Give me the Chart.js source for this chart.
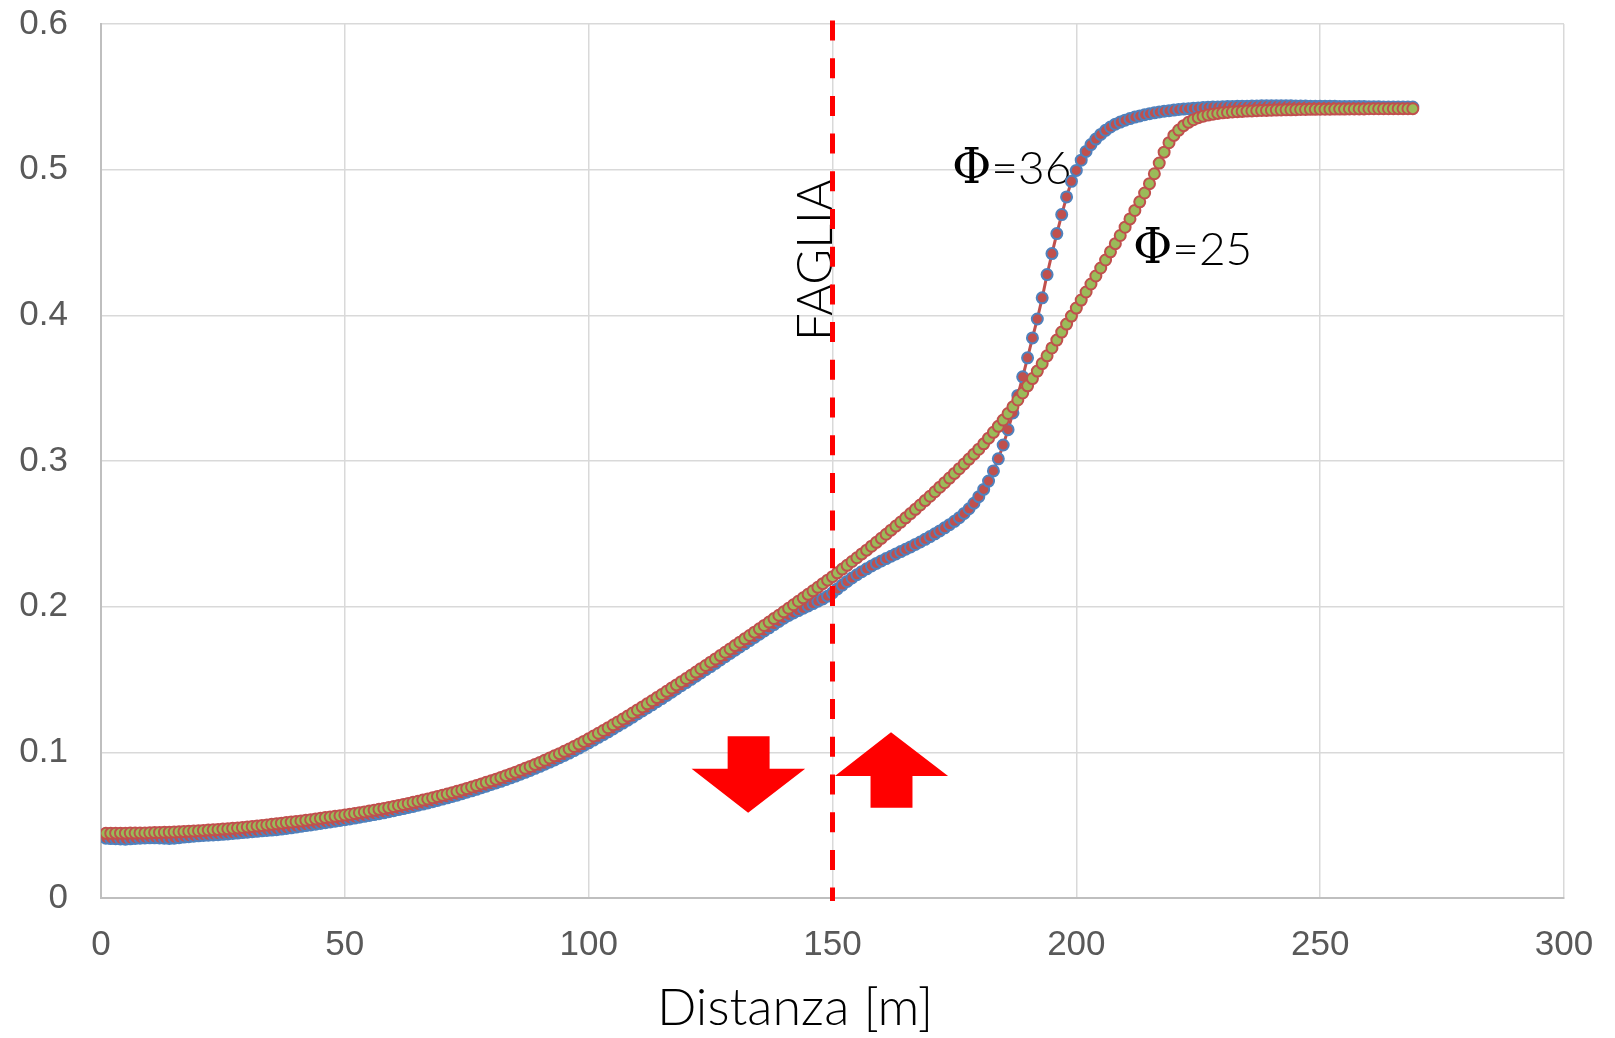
<!DOCTYPE html>
<html><head><meta charset="utf-8">
<script src="https://cdn.jsdelivr.net/npm/chart.js@4"></script>
<style>html,body{margin:0;padding:0;background:#fff}#wrap{width:1615px;height:1038px;position:relative}</style>
</head><body><div id="wrap"><canvas id="c"></canvas></div>
<script>
// Φ=36 series (blue outline, red fill)
const phi36 = [
0.0410,0.0408,0.0407,0.0405,0.0404,0.0406,0.0409,0.0411,0.0412,0.0413,
0.0413,0.0412,0.0410,0.0409,0.0411,0.0414,0.0418,0.0421,0.0424,0.0427,
0.0429,0.0431,0.0433,0.0435,0.0437,0.0440,0.0443,0.0446,0.0449,0.0452,
0.0455,0.0458,0.0461,0.0464,0.0466,0.0469,0.0473,0.0477,0.0482,0.0487,
0.0492,0.0497,0.0502,0.0507,0.0512,0.0517,0.0522,0.0527,0.0532,0.0537,
0.0543,0.0549,0.0555,0.0561,0.0567,0.0573,0.0579,0.0585,0.0592,0.0599,
0.0607,0.0614,0.0622,0.0629,0.0637,0.0645,0.0653,0.0661,0.0670,0.0679,
0.0688,0.0697,0.0706,0.0716,0.0726,0.0736,0.0746,0.0757,0.0768,0.0779,
0.0790,0.0801,0.0813,0.0825,0.0837,0.0850,0.0863,0.0876,0.0890,0.0904,
0.0918,0.0933,0.0948,0.0963,0.0979,0.0995,0.1012,0.1029,0.1047,0.1065,
0.1084,0.1103,0.1122,0.1141,0.1161,0.1181,0.1201,0.1221,0.1242,0.1263,
0.1284,0.1305,0.1326,0.1348,0.1369,0.1391,0.1413,0.1435,0.1457,0.1479,
0.1501,0.1523,0.1545,0.1567,0.1589,0.1611,0.1634,0.1656,0.1679,0.1701,
0.1723,0.1745,0.1767,0.1789,0.1811,0.1833,0.1855,0.1877,0.1899,0.1921,
0.1940,0.1957,0.1973,0.1989,0.2005,0.2021,0.2037,0.2053,0.2072,0.2095,
0.2122,0.2148,0.2173,0.2197,0.2219,0.2240,0.2260,0.2279,0.2297,0.2314,
0.2330,0.2346,0.2362,0.2378,0.2394,0.2410,0.2427,0.2444,0.2462,0.2481,
0.2500,0.2520,0.2541,0.2563,0.2586,0.2611,0.2640,0.2672,0.2710,0.2755,
0.2805,0.2862,0.2932,0.3015,0.3110,0.3215,0.3330,0.3450,0.3578,0.3708,
0.3845,0.3975,0.4120,0.4280,0.4424,0.4561,0.4692,0.4813,0.4920,0.4995,
0.5065,0.5125,0.5172,0.5210,0.5242,0.5270,0.5293,0.5312,0.5327,0.5340,
0.5351,0.5361,0.5369,0.5377,0.5384,0.5390,0.5396,0.5401,0.5405,0.5409,
0.5413,0.5416,0.5419,0.5422,0.5424,0.5426,0.5428,0.5430,0.5431,0.5432,
0.5433,0.5434,0.5435,0.5436,0.5436,0.5437,0.5437,0.5438,0.5438,0.5438,
0.5438,0.5438,0.5438,0.5438,0.5437,0.5437,0.5437,0.5436,0.5436,0.5436,
0.5435,0.5435,0.5435,0.5434,0.5434,0.5434,0.5433,0.5433,0.5433,0.5432,
0.5432,0.5432,0.5431,0.5431,0.5431,0.5430,0.5430,0.5430,0.5430
];
// Φ=25 series (red outline, green fill)
const phi25 = [
0.0444,0.0444,0.0445,0.0445,0.0445,0.0446,0.0446,0.0447,0.0447,0.0448,
0.0449,0.0450,0.0451,0.0452,0.0453,0.0455,0.0456,0.0458,0.0460,0.0462,
0.0464,0.0466,0.0468,0.0470,0.0473,0.0475,0.0478,0.0481,0.0484,0.0488,
0.0491,0.0495,0.0498,0.0502,0.0506,0.0510,0.0514,0.0518,0.0521,0.0525,
0.0529,0.0534,0.0538,0.0543,0.0547,0.0552,0.0556,0.0561,0.0565,0.0570,
0.0575,0.0580,0.0586,0.0591,0.0597,0.0603,0.0609,0.0615,0.0621,0.0628,
0.0635,0.0642,0.0649,0.0657,0.0664,0.0672,0.0680,0.0688,0.0697,0.0705,
0.0714,0.0723,0.0732,0.0742,0.0752,0.0762,0.0772,0.0783,0.0794,0.0805,
0.0816,0.0828,0.0840,0.0852,0.0864,0.0877,0.0890,0.0903,0.0917,0.0931,
0.0946,0.0961,0.0976,0.0991,0.1007,0.1023,0.1040,0.1057,0.1075,0.1093,
0.1112,0.1131,0.1150,0.1169,0.1189,0.1209,0.1229,0.1249,0.1270,0.1291,
0.1312,0.1333,0.1354,0.1376,0.1397,0.1419,0.1441,0.1463,0.1485,0.1507,
0.1529,0.1551,0.1574,0.1596,0.1619,0.1641,0.1664,0.1687,0.1710,0.1733,
0.1756,0.1779,0.1802,0.1825,0.1848,0.1871,0.1894,0.1918,0.1941,0.1965,
0.1989,0.2013,0.2037,0.2061,0.2085,0.2109,0.2133,0.2158,0.2182,0.2206,
0.2232,0.2258,0.2284,0.2310,0.2336,0.2362,0.2388,0.2415,0.2442,0.2469,
0.2497,0.2525,0.2553,0.2581,0.2610,0.2639,0.2668,0.2698,0.2728,0.2758,
0.2789,0.2820,0.2851,0.2883,0.2915,0.2947,0.2980,0.3013,0.3047,0.3081,
0.3118,0.3157,0.3197,0.3238,0.3281,0.3326,0.3372,0.3419,0.3467,0.3516,
0.3566,0.3617,0.3669,0.3722,0.3776,0.3830,0.3885,0.3940,0.3995,0.4050,
0.4105,0.4160,0.4215,0.4270,0.4325,0.4380,0.4436,0.4492,0.4548,0.4605,
0.4662,0.4720,0.4779,0.4840,0.4904,0.4972,0.5045,0.5120,0.5185,0.5235,
0.5272,0.5302,0.5325,0.5343,0.5357,0.5367,0.5375,0.5381,0.5386,0.5390,
0.5393,0.5396,0.5398,0.5400,0.5402,0.5403,0.5405,0.5406,0.5407,0.5408,
0.5409,0.5410,0.5411,0.5411,0.5412,0.5413,0.5413,0.5414,0.5414,0.5415,
0.5415,0.5415,0.5416,0.5416,0.5416,0.5417,0.5417,0.5417,0.5417,0.5418,
0.5418,0.5418,0.5418,0.5418,0.5419,0.5419,0.5419,0.5419,0.5419
];
// distance of each sample [m], one sample per metre starting at 1 m
const distanza = phi25.map((_, i) => i + 1);
const xTicks = [0, 50, 100, 150, 200, 250, 300];
const yTicks = [0, 0.1, 0.2, 0.3, 0.4, 0.5, 0.6];
const faultX = 150;
const xTitle = 'Distanza [m]';
const faultLabel = 'FAGLIA';
const curveLabels = [
  { phi: 'Φ', rest: '=36', x: 174.5, y: 0.500 },
  { phi: 'Φ', rest: '=25', x: 211.6, y: 0.445 }
];
// arrows (polygons in data units)
const arrowDown = [[128.5,0.1111],[137.1,0.1111],[137.1,0.0888],[144.4,0.0888],[132.7,0.0586],[121.1,0.0888],[128.5,0.0888]];
const arrowUp = [[162.0,0.1138],[173.7,0.0838],[166.4,0.0838],[166.4,0.0620],[157.8,0.0620],[157.8,0.0838],[150.5,0.0838]];

const pts = (ys) => ys.map((y, i) => ({ x: distanza[i], y }));

const annot = {
  id: 'annot',
  beforeDatasetsDraw(chart) {
    const { ctx, scales: { x, y } } = chart;
    ctx.save();
    ctx.fillStyle = '#FF0000';
    [arrowDown, arrowUp].forEach(poly => {
      ctx.beginPath();
      poly.forEach(([px, py], i) => {
        const X = x.getPixelForValue(px), Y = y.getPixelForValue(py);
        i ? ctx.lineTo(X, Y) : ctx.moveTo(X, Y);
      });
      ctx.closePath(); ctx.fill();
    });
    ctx.fillStyle = '#000';
    ctx.textBaseline = 'middle';
    curveLabels.forEach(l => {
      let X = x.getPixelForValue(l.x); const Y = y.getPixelForValue(l.y);
      ctx.font = '48px "DejaVu Serif"';
      ctx.fillText(l.phi, X, Y + 1);
      X += ctx.measureText(l.phi).width;
      ctx.font = '300 46px Lato';
      ctx.fillText(l.rest, X, Y);
    });
    ctx.save();
    ctx.translate(x.getPixelForValue(faultX) - 1, y.getPixelForValue(0.438));
    ctx.rotate(-Math.PI / 2);
    ctx.font = '300 49px Lato';
    ctx.textAlign = 'center';
    ctx.textBaseline = 'alphabetic';
    ctx.fillText(faultLabel, 0, 0);
    ctx.restore();
    ctx.restore();
  },
  afterDatasetsDraw(chart) {
    const { ctx, chartArea, scales: { x } } = chart;
    const X = x.getPixelForValue(faultX);
    ctx.save();
    ctx.strokeStyle = '#FF0000';
    ctx.lineWidth = 5;
    ctx.setLineDash([20, 17.7]);
    ctx.beginPath();
    ctx.moveTo(X, chartArea.top - 3.5);
    ctx.lineTo(X, chartArea.bottom + 3);
    ctx.stroke();
    ctx.restore();
  },
  afterDraw(chart) {
    const { ctx } = chart;
    ctx.save();
    ctx.fillStyle = '#000';
    ctx.font = '300 52px Lato';
    ctx.textAlign = 'center';
    ctx.textBaseline = 'middle';
    ctx.fillText(xTitle, 795, 1008);
    ctx.restore();
  }
};

new Chart(document.getElementById('c'), {
  type: 'scatter',
  data: {
    datasets: [
      {
        label: 'Φ=25', data: pts(phi25), showLine: true,
        borderColor: '#C0504D', borderWidth: 3,
        pointBackgroundColor: '#9BBB59', pointBorderColor: '#C0504D',
        pointRadius: 5.5, pointBorderWidth: 2, order: 1
      },
      {
        label: 'Φ=36', data: pts(phi36), showLine: true,
        borderColor: '#C0504D', borderWidth: 3,
        pointBackgroundColor: '#C0504D', pointBorderColor: '#4F81BD',
        pointRadius: 5.5, pointBorderWidth: 2, order: 2
      }
    ]
  },
  options: {
    responsive: true, maintainAspectRatio: false, animation: false,
    layout: { padding: { top: 24, right: 51, left: 0, bottom: 0 } },
    plugins: { legend: { display: false }, tooltip: { enabled: false } },
    scales: {
      x: {
        type: 'linear', min: 0, max: 300,
        afterBuildTicks: s => { s.ticks = xTicks.map(v => ({ value: v })); },
        afterFit: s => { s.height = 140; s.paddingLeft = 0; s.paddingRight = 0; },
        grid: { color: '#D9D9D9', lineWidth: 1.5, drawTicks: false },
        border: { color: '#BFBFBF', width: 2 },
        ticks: { color: '#595959', font: { family: '"Liberation Sans"', size: 35 }, padding: 26, maxRotation: 0 }
      },
      y: {
        type: 'linear', min: 0, max: 0.6,
        afterBuildTicks: s => { s.ticks = yTicks.map(v => ({ value: v })); },
        afterFit: s => { s.width = 101; s.paddingTop = 0; s.paddingBottom = 0; },
        grid: { color: '#D9D9D9', lineWidth: 1.5, drawTicks: false },
        border: { color: '#BFBFBF', width: 2 },
        ticks: { color: '#595959', font: { family: '"Liberation Sans"', size: 35 }, padding: 33 }
      }
    }
  },
  plugins: [annot]
});
</script></body></html>
